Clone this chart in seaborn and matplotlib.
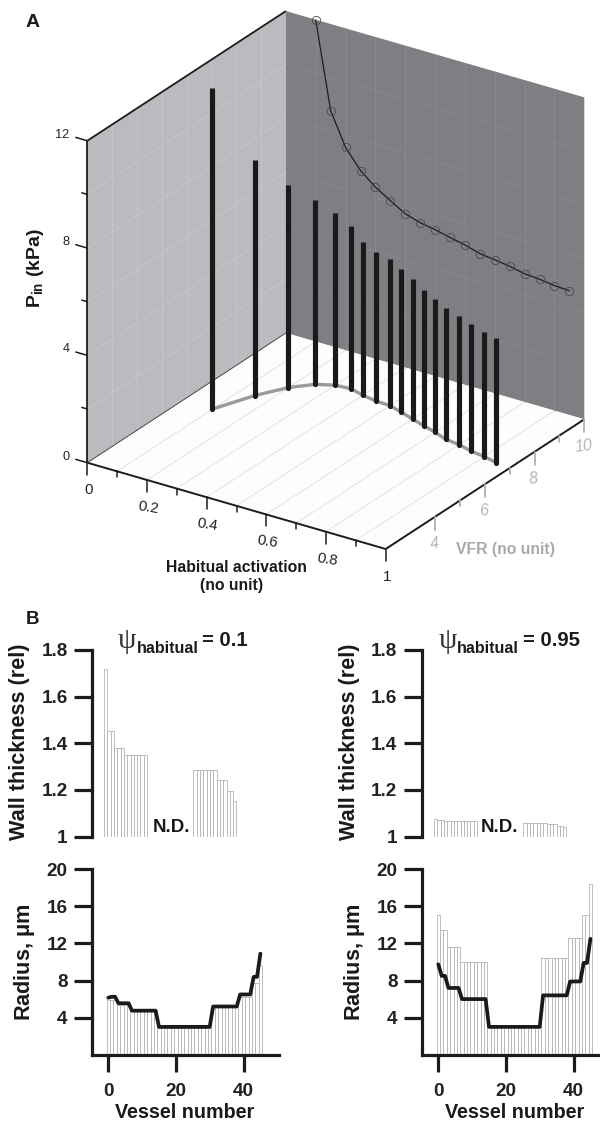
import numpy as np
import matplotlib
matplotlib.use("Agg")
import matplotlib.pyplot as plt
from matplotlib.patches import Polygon
import seaborn as sns

# ---------- data: panel A ----------
habitual = [0.10, 0.15, 0.20, 0.25, 0.30, 0.35, 0.40, 0.45, 0.50, 0.55, 0.60, 0.65, 0.70, 0.75, 0.80, 0.85, 0.90, 0.95]
vfr = [5.84, 6.94, 7.70, 8.16, 8.38, 8.42, 8.29, 8.21, 8.18, 8.04, 7.89, 7.74, 7.60, 7.43, 7.37, 7.24, 7.17, 7.06]
pin = [11.98, 8.77, 7.56, 6.86, 6.40, 6.06, 5.73, 5.56, 5.46, 5.33, 5.21, 5.05, 4.98, 4.90, 4.78, 4.74, 4.66, 4.63]

# ---------- data: panel B ----------
wall_vessels = list(range(0, 13)) + list(range(27, 40))
wall_low = [1.717, 1.451, 1.451, 1.381, 1.381, 1.381] + [1.351] * 7 + [1.286] * 7 + [1.243] * 3 + [1.195] * 2 + [1.152]
wall_high = [1.077, 1.071, 1.071] + [1.066] * 10 + [1.057] * 7 + [1.053] * 3 + [1.045] * 2 + [1.040]

vessels = list(range(46))
base_low = [5.85] * 3 + [5.35] * 4 + [4.70] * 8 + [2.90] * 16 + [5.10] * 8 + [6.25] * 4 + [7.70] * 2 + [9.70]
line_low = [6.15] + [6.25] * 2 + [5.55] * 4 + [4.75] * 8 + [3.00] * 16 + [5.20] * 8 + [6.50] * 4 + [8.40] * 2 + [10.90]
base_high = [15.1] + [13.4] * 2 + [11.65] * 4 + [10.0] * 8 + [2.95] * 16 + [10.45] * 8 + [12.55] * 4 + [15.1] * 2 + [18.4]
line_high = [9.75] + [8.5] * 2 + [7.2] * 4 + [6.0] * 8 + [3.0] * 16 + [6.4] * 8 + [7.9] * 4 + [9.9] * 2 + [12.5]

FW, FH = 600, 1122
sns.set_theme(style="white")
plt.rcParams["font.family"] = ["Liberation Sans", "DejaVu Sans"]
plt.rcParams["mathtext.fontset"] = "custom"
plt.rcParams["mathtext.rm"] = "Liberation Sans"
plt.rcParams["mathtext.bf"] = "Liberation Sans:bold"
plt.rcParams["mathtext.default"] = "regular"

fig = plt.figure(figsize=(FW / 100, FH / 100), dpi=100)
INK = "#1c1c1c"
GREY_TXT = "#a9a9a9"

cv = fig.add_axes([0, 0, 1, 1])
cv.set_xlim(0, FW)
cv.set_ylim(FH, 0)
cv.axis("off")


def project(h, v, p):
    """Oblique projection of (activation, VFR, pressure) to canvas pixels."""
    t = (np.asarray(v, float) - 2) / 8
    h = np.asarray(h, float)
    x = 87.3 + 298.4 * h + 198.6 * t
    y = 462.7 + 86.3 * h - 129.7 * t - 26.83 * np.asarray(p, float)
    return x, y


def seg(a, b, color, lw, z=2, **kw):
    xa, ya = project(*a)
    xb, yb = project(*b)
    cv.plot([xa, xb], [ya, yb], color=color, lw=lw, zorder=z, solid_capstyle="butt", **kw)


def poly(corners, color, z=1):
    cv.add_patch(Polygon([tuple(map(float, project(*c))) for c in corners], closed=True, fc=color, ec="none", zorder=z))


poly([(0, 2, 0), (0, 10, 0), (0, 10, 12), (0, 2, 12)], "#b9bbbe")
poly([(0, 10, 0), (1, 10, 0), (1, 10, 12), (0, 10, 12)], "#7e7f82")
poly([(0, 2, 0), (1, 2, 0), (1, 10, 0), (0, 10, 0)], "#fdfdfd")

for v in range(3, 10):
    seg((0, v, 0), (0, v, 12), "#c6c8ca", 0.6)
for h in np.arange(0.1, 1.0, 0.1):
    seg((h, 10, 0), (h, 10, 12), "#8a8b8e", 0.6)
    seg((h, 2, 0), (h, 10, 0), "#dedede", 0.6)
for p in (2, 4, 6, 8, 10):
    seg((0, 2, p), (0, 10, p), "#c6c8ca", 0.6)
    seg((0, 10, p), (1, 10, p), "#8a8b8e", 0.5)

seg((0, 2, 0), (0, 2, 12), INK, 1.3, 3)
seg((0, 2, 12), (0, 10, 12), INK, 1.3, 3)
seg((0, 2, 0), (1, 2, 0), INK, 1.4, 3)
seg((1, 2, 0), (1, 10, 0), INK, 1.4, 3)
seg((0, 2, 0), (0, 10, 0), "#444444", 0.7, 3)

for p in range(0, 13, 2):
    x, y = project(0, 2, p)
    ln = 11.5 if p % 4 == 0 else 5.5
    cv.plot([x - ln, x], [y - ln * 0.29, y], color=INK, lw=1.1, zorder=3)
    if p % 4 == 0:
        cv.text(69.5, y - 6, str(p), ha="right", va="center", fontsize=9.2, color="#222222")

for i in range(11):
    x, y = project(i / 10, 2, 0)
    ln = 12 if i % 2 == 0 else 6
    cv.plot([x, x], [y, y + ln], color=INK, lw=1.1, zorder=3)
    if i % 2 == 0:
        lab = {0: "0", 10: "1"}.get(i, f"{i / 10:.1f}")
        cv.text(x + 1, y + 27.5, lab, ha="center", va="center", fontsize=10.8,
                rotation=0 if i in (0, 10) else -9, color="#222222")

for v in range(4, 11):
    x, y = project(1, v, 0)
    ln = 13 if v % 2 == 0 else 6
    cv.plot([x, x], [y, y + ln], color="#b0b0b0", lw=1.3, zorder=3)
    if v % 2 == 0:
        cv.text(x - 1, y + 27, str(v), ha="center", va="center", fontsize=11.5, rotation=8,
                fontstyle="italic", color="#b5b5b5")

fx, fy = project(habitual, vfr, 0)
sns.lineplot(x=fx, y=fy, sort=False, estimator=None, color="#9a9a9a", lw=2.4, ax=cv, zorder=4)

tx, ty = project(habitual, vfr, pin)
cv.vlines(fx, fy, ty, color="#1a1a1a", lw=3.7, zorder=5)
cv.plot(fx, fy, ls="none", marker="o", ms=3.7, mfc="#1a1a1a", mec="none", zorder=5)

wx, wy = project(habitual, [10] * len(habitual), pin)
sns.lineplot(x=wx, y=wy, sort=False, estimator=None, color="#1d1d1d", lw=0.9, ax=cv, zorder=4)
cv.plot(wx, wy, ls="none", marker="o", ms=6, mfc="none", mec="#4a4a4a", mew=0.6, zorder=4)

cv.set_xlim(0, FW)
cv.set_ylim(FH, 0)
cv.set_xlabel("")
cv.set_ylabel("")


def label(x, y, s, size=12.5, weight="bold", color="#1a1a1a", **kw):
    cv.text(x, y, s, fontsize=size, fontweight=weight, color=color, ha=kw.pop("ha", "center"), va=kw.pop("va", "center"), **kw)


label(32.2, 22.4, "A", size=14)
label(32.5, 619, "B", size=13.5)
label(35, 268, r"P$_{\mathbf{in}}$ (kPa)", size=14, rotation=90)
label(236, 567.5, "Habitual activation", size=11.3)
label(232, 585, "(no unit)", size=11.3)
label(505.5, 549, "VFR (no unit)", size=11.3, color=GREY_TXT)


def px_axes(left, top, right, bottom):
    a = fig.add_axes([left / FW, 1 - bottom / FH, (right - left) / FW, (bottom - top) / FH])
    a.patch.set_alpha(0)
    return a


def style(a):
    sns.despine(ax=a)
    a.spines["left"].set_linewidth(2.3)
    a.spines["left"].set_color(INK)
    a.spines["bottom"].set_linewidth(2.3)
    a.spines["bottom"].set_color(INK)
    a.tick_params(axis="y", which="major", length=13, width=2.3, color=INK, pad=4.5,
                  labelsize=13.6, left=True)
    a.tick_params(axis="x", which="major", length=12.5, width=2.3, color=INK, pad=8,
                  labelsize=13.6, bottom=True)
    for t in a.get_xticklabels() + a.get_yticklabels():
        t.set_fontweight("bold")
        t.set_color("#222222")
    a.set_xlabel("")
    a.set_ylabel("")


BAR = dict(color="white", edgecolor="#b4b4b4", linewidth=0.6, width=1, native_scale=True)

for left, wall, base, line, x0 in [
    (92.0, wall_low, base_low, line_low, 108.3),
    (421.7, wall_high, base_high, line_high, 438.3),
]:
    a = px_axes(left, 650, left + 190, 836.5)
    sns.barplot(x=wall_vessels, y=[w - 1 for w in wall], bottom=1.0, ax=a, **BAR)
    lim0 = -(x0 - 2.6 - left) / 3.31
    a.set_xlim(lim0, lim0 + 190 / 3.31)
    a.set_ylim(1, 1.8)
    a.set_yticks([1, 1.2, 1.4, 1.6, 1.8], ["1", "1.2", "1.4", "1.6", "1.8"])
    style(a)
    a.spines["bottom"].set_visible(False)
    a.tick_params(axis="x", bottom=False, labelbottom=False)
    for l in a.yaxis.get_ticklines():
        l.set_clip_on(False)

    scale = 3.38
    r = px_axes(left, 869.3, left + 187, 1054.7)
    sns.barplot(x=vessels, y=base, ax=r, **BAR)
    sns.lineplot(x=vessels, y=line, color="#1a1a1a", lw=2.7, ax=r, zorder=6,
                 solid_capstyle="round", solid_joinstyle="round")
    lim0 = -(x0 - left) / scale
    r.set_xlim(lim0, lim0 + 187 / scale)
    r.set_ylim(0, 20)
    r.set_yticks([4, 8, 12, 16, 20], ["4", "8", "12", "16", "20"])
    r.set_xticks([0, 20, 40], ["0", "20", "40"])
    style(r)

offx = 329.7
for dx in (0, offx):
    label(20 + dx, 742, "Wall thickness (rel)", size=15.6, rotation=90)
    label(24.5 + dx, 962, r"Radius, $\mu$m", size=15.6, rotation=90)
    label(185 + dx, 1113, "Vessel number", size=14.2)

label(172, 827, "N.D.", size=13.5)
label(500, 827, "N.D.", size=13.5)

for psi_x, hab_x, eq_x, txt in [(117.5, 136.5, 201.7, "= 0.1"), (438.5, 457, 523, "= 0.95")]:
    cv.text(psi_x, 648, "\u03c8", fontsize=21, ha="left", va="baseline", color="#333333",
            family=["Liberation Serif", "DejaVu Sans"], zorder=9)
    cv.text(hab_x, 652.5, "habitual", fontsize=11.5, fontweight="bold", ha="left", va="baseline", color="#1a1a1a")
    cv.text(eq_x, 646, txt, fontsize=14.6, fontweight="bold", ha="left", va="baseline", color="#1a1a1a")

fig.savefig("out.png", dpi=100)
